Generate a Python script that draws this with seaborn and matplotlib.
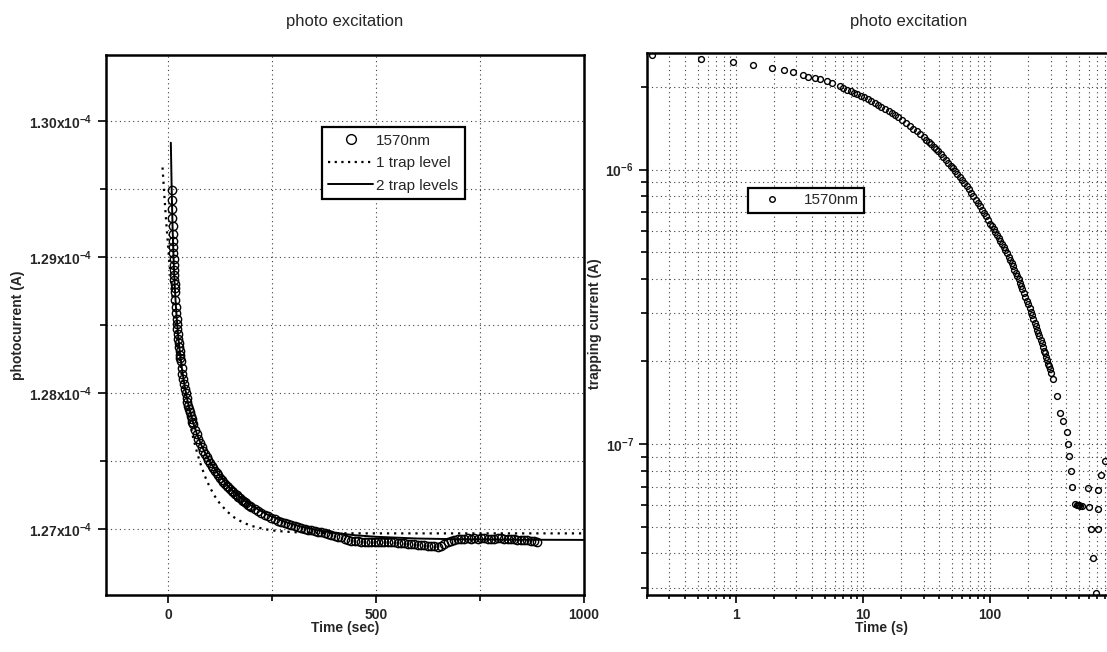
import numpy as np
import pandas as pd
import matplotlib
matplotlib.use("Agg")
import matplotlib.pyplot as plt
from matplotlib.ticker import MultipleLocator, FuncFormatter, LogLocator, NullFormatter, FixedLocator
from matplotlib.lines import Line2D
import seaborn as sns

# ---------------- left panel: photocurrent vs time ----------------
meas_time_s = [8, 8.5, 9, 9.5, 10, 10.5, 11, 11.5, 12, 12.5, 13, 13.5, 14, 14.5, 15, 15.5, 16,
               17, 18, 19, 20, 21, 22, 23, 24, 25, 26, 27, 28, 29, 30,
               32, 34, 36, 38, 40, 42, 44, 46, 48, 50, 52, 54, 56, 58, 60,
               64, 68, 72, 76, 80, 84, 88, 92, 96, 100, 104, 108, 112, 116, 120, 124, 128, 132,
               136, 140, 144, 148, 152, 156, 160, 164, 168, 172, 176, 180, 184, 188, 192, 196, 200,
               208, 216, 224, 232, 240, 248, 256, 264, 272, 280, 288, 296, 304, 312, 320, 328,
               336, 344, 352, 360, 368, 376, 384, 392, 400, 408, 416, 424, 432, 440, 448, 456,
               464, 472, 480, 488, 496, 504, 512, 520, 528, 536, 544, 552, 560, 568, 576, 584,
               592, 600, 608, 616, 624, 632, 640, 648, 656, 664, 672, 680, 688, 696, 704, 712,
               720, 728, 736, 744, 752, 760, 768, 776, 784, 792, 800, 808, 816, 824, 832, 840,
               848, 856, 864, 872, 880, 888]
meas_current_uA = [129.491, 129.418, 129.350, 129.287, 129.227, 129.172, 129.120, 129.072, 129.026,
                   128.983, 128.942, 128.904, 128.868, 128.833, 128.801, 128.770, 128.740,
                   128.685, 128.634, 128.588, 128.545, 128.505, 128.467, 128.432, 128.399, 128.368,
                   128.338, 128.309, 128.282, 128.257, 128.232,
                   128.185, 128.142, 128.102, 128.065, 128.030, 127.997, 127.965, 127.936, 127.908,
                   127.882, 127.857, 127.833, 127.811, 127.789, 127.769,
                   127.730, 127.695, 127.662, 127.632, 127.603, 127.577, 127.552, 127.529, 127.507,
                   127.485, 127.466, 127.447, 127.428, 127.411, 127.394, 127.378, 127.363, 127.348,
                   127.334, 127.320, 127.307, 127.294, 127.282, 127.270, 127.258, 127.247, 127.237,
                   127.226, 127.216, 127.206, 127.197, 127.188, 127.179, 127.171, 127.162,
                   127.147, 127.132, 127.118, 127.105, 127.093, 127.082, 127.071, 127.061, 127.052,
                   127.043, 127.035, 127.027, 127.020, 127.013, 127.007, 127.001,
                   126.995, 126.990, 126.985, 126.980, 126.975, 126.969, 126.963, 126.957, 126.950,
                   126.945, 126.938, 126.930, 126.922, 126.915, 126.912, 126.910,
                   126.908, 126.906, 126.908, 126.905, 126.906, 126.907, 126.905, 126.906, 126.904,
                   126.905, 126.902, 126.900, 126.898, 126.895, 126.893, 126.890,
                   126.888, 126.885, 126.882, 126.880, 126.878, 126.876, 126.872, 126.870, 126.875,
                   126.888, 126.905, 126.912, 126.918, 126.925, 126.928, 126.930,
                   126.931, 126.930, 126.932, 126.930, 126.931, 126.933, 126.930, 126.928, 126.930,
                   126.932, 126.931, 126.929, 126.928, 126.930, 126.926, 126.920,
                   126.922, 126.918, 126.916, 126.915, 126.912, 126.908]

fit1_time_s = [-14, -10, -6, -2, 2, 6, 10, 15, 20, 25, 30, 35, 40, 50, 60, 70, 80, 90, 100, 110,
               120, 140, 160, 180, 200, 230, 260, 300, 350, 400, 500, 600, 700, 800, 900, 1000]
fit1_current_uA = [129.658, 129.469, 129.294, 129.131, 128.979, 128.838, 128.707, 128.556, 128.418,
                   128.292, 128.177, 128.072, 127.976, 127.808, 127.668, 127.552, 127.455, 127.374,
                   127.306, 127.250, 127.203, 127.132, 127.082, 127.047, 127.023, 127.000, 126.986,
                   126.977, 126.972, 126.969, 126.968, 126.968, 126.968, 126.968, 126.968, 126.968]

fit2_time_s = [6, 8, 10, 12, 14, 16, 18, 20, 24, 28, 32, 36, 40, 45, 50, 55, 60, 70, 80, 90, 100,
               120, 140, 160, 180, 200, 240, 280, 320, 360, 400, 450, 500, 600, 700, 800, 900, 1000]
fit2_current_uA = [129.840, 129.500, 129.237, 129.036, 128.878, 128.750, 128.644, 128.555, 128.409,
                   128.292, 128.195, 128.112, 128.040, 127.960, 127.892, 127.832, 127.779, 127.688,
                   127.613, 127.550, 127.495, 127.404, 127.330, 127.268, 127.216, 127.172, 127.103,
                   127.053, 127.017, 126.990, 126.971, 126.954, 126.943, 126.930, 126.925, 126.922,
                   126.921, 126.920]

# ---------------- right panel: trapping current vs time ----------------
trap_time_s = [0.22, 0.53, 0.95, 1.37, 1.93, 2.39, 2.83, 3.35, 3.71, 4.19, 4.59, 5.18, 5.67, 6.59,
               7, 7.5, 8, 8.5, 9, 9.6, 10.2, 10.9, 11.6, 12.4, 13.2, 14, 15, 16, 17, 18, 19, 20.5,
               22, 23.5, 25, 26.5, 28, 30,
               31.5, 33, 34.5, 36, 37.5, 39, 41, 43, 45, 47, 49, 51, 53, 55.5, 58, 60.5, 63, 65.5,
               68, 71, 74, 77, 80, 83, 86, 89, 92.5, 96, 100,
               103.5, 107, 110.5, 114, 117.5, 121, 124.5, 128, 132, 136, 140, 144, 148, 152, 156,
               160, 164, 168, 172, 176, 180,
               185, 190, 195, 200, 205, 210, 215, 220, 225, 230, 235, 240, 245, 250, 255, 260, 265,
               270, 275, 280, 285, 290, 295, 300,
               316, 336, 356, 374, 401, 413, 420, 438, 446, 465, 480, 490, 500, 515, 530, 592, 603,
               629, 647, 682, 705, 712, 715, 752, 803]
trap_current_uA = [2.62, 2.53, 2.46, 2.41, 2.355, 2.31, 2.265, 2.21, 2.18, 2.155, 2.13, 2.095, 2.066, 2.01,
                   1.980, 1.955, 1.931, 1.908, 1.886, 1.860, 1.836, 1.808, 1.782, 1.753, 1.725, 1.698,
                   1.666, 1.636, 1.607, 1.579, 1.553, 1.514, 1.478, 1.444, 1.411, 1.380, 1.350, 1.313,
                   1.286, 1.260, 1.235, 1.211, 1.188, 1.166, 1.137, 1.110, 1.084, 1.059, 1.035, 1.012,
                   0.990, 0.963, 0.938, 0.914, 0.891, 0.868, 0.847, 0.822, 0.799, 0.777, 0.755, 0.735,
                   0.715, 0.696, 0.675, 0.655, 0.633,
                   0.622, 0.607, 0.593, 0.578, 0.564, 0.551, 0.537, 0.524, 0.510, 0.495, 0.482, 0.469,
                   0.456, 0.444, 0.432, 0.420, 0.409, 0.398, 0.387, 0.377, 0.367,
                   0.355, 0.344, 0.333, 0.323, 0.312, 0.303, 0.295, 0.285, 0.277, 0.269, 0.261, 0.254,
                   0.247, 0.239, 0.233, 0.226, 0.219, 0.214, 0.208, 0.203, 0.196, 0.192, 0.187, 0.182,
                   0.172, 0.150, 0.130, 0.121, 0.111, 0.100, 0.0905, 0.080, 0.070, 0.0603, 0.0598,
                   0.0600, 0.0598, 0.0596, 0.0597, 0.069, 0.059, 0.0489, 0.0386, 0.0286, 0.049, 0.058,
                   0.068, 0.077, 0.087]

titles = ["photo excitation", "photo excitation"]
legend_labels_left = ["1570nm", "1 trap level", "2 trap levels"]
legend_labels_right = ["1570nm"]
left_xticks = [0, 500, 1000]
left_yticks = [1.27e-4, 1.28e-4, 1.29e-4, 1.30e-4]
right_xticks = [1, 10, 100]

assert len(meas_time_s) == len(meas_current_uA)
assert len(fit1_time_s) == len(fit1_current_uA)
assert len(fit2_time_s) == len(fit2_current_uA)
assert len(trap_time_s) == len(trap_current_uA)

meas = pd.DataFrame({"t": meas_time_s, "I": np.array(meas_current_uA) * 1e-6})
fit1 = pd.DataFrame({"t": fit1_time_s, "I": np.array(fit1_current_uA) * 1e-6})
fit2 = pd.DataFrame({"t": fit2_time_s, "I": np.array(fit2_current_uA) * 1e-6})
trap = pd.DataFrame({"t": trap_time_s, "I": np.array(trap_current_uA) * 1e-6})

sns.set_theme(style="white")
plt.rcParams['font.family'] = ['Liberation Sans', 'DejaVu Sans']
plt.rcParams['mathtext.default'] = 'regular'

W, H = 1107, 652
fig = plt.figure(figsize=(W / 100, H / 100), dpi=100)
fig.patch.set_facecolor('white')


def px_axes(l, t, r, b):
    return [l / W, 1 - b / H, (r - l) / W, (b - t) / H]


ax1 = fig.add_axes(px_axes(106, 55, 584, 595))
ax2 = fig.add_axes(px_axes(647, 53, 1171, 595))

grid_kw = dict(linestyle=(0, (1, 3)), color='0.25', linewidth=0.8)

# ---------- left ----------
sns.lineplot(data=fit1, x="t", y="I", ax=ax1, estimator=None, sort=False, color='black',
             linestyle=(0, (1, 2.2)), linewidth=1.6, zorder=2)
sns.lineplot(data=meas, x="t", y="I", ax=ax1, estimator=None, sort=False, color='black',
             linestyle='none', marker='o', markersize=6, markerfacecolor='none',
             markeredgecolor='black', markeredgewidth=1.0, zorder=3)
sns.lineplot(data=fit2, x="t", y="I", ax=ax1, estimator=None, sort=False, color='black',
             linestyle='-', linewidth=1.4, zorder=4)

ax1.set_xlim(-150, 1000)
ax1.set_ylim(1.26515e-4, 1.30485e-4)
ax1.xaxis.set_major_locator(FixedLocator(left_xticks))
ax1.xaxis.set_minor_locator(MultipleLocator(250))
ax1.yaxis.set_major_locator(FixedLocator(left_yticks))
ax1.yaxis.set_minor_locator(MultipleLocator(0.5e-6))
ax1.xaxis.set_major_formatter(FuncFormatter(lambda v, p: f"{v:g}"))
ax1.yaxis.set_major_formatter(FuncFormatter(lambda v, p: f"{v * 1e4:.2f}x10$^{{-4}}$"))
ax1.grid(True, which='both', **grid_kw)
ax1.set_title(titles[0], fontsize=12, pad=21)
ax1.set_xlabel("Time (sec)", fontsize=10, fontweight='bold')
ax1.set_ylabel("photocurrent (A)", fontsize=10, fontweight='bold')
ax1.yaxis.set_label_coords(-0.169, 0.5)
ax1.xaxis.set_label_coords(0.5, -0.048)

h_left = [Line2D([], [], linestyle='none', marker='o', markersize=7, markerfacecolor='none',
                 markeredgecolor='black', markeredgewidth=1.0),
          Line2D([], [], color='black', linestyle=(0, (1, 2)), linewidth=1.6),
          Line2D([], [], color='black', linestyle='-', linewidth=1.4)]
leg1 = ax1.legend(h_left, legend_labels_left, loc='upper left', bbox_to_anchor=(0.451, 0.867),
                  borderaxespad=0, frameon=True, fancybox=False, framealpha=1,
                  edgecolor='black', fontsize=11, handlelength=2.9, handletextpad=0.2,
                  borderpad=0.45, labelspacing=0.55)
leg1.get_frame().set_linewidth(1.6)

# ---------- right ----------
ax2.set_xscale('log')
ax2.set_yscale('log')
sns.lineplot(data=trap, x="t", y="I", ax=ax2, estimator=None, sort=False, color='black',
             linestyle='none', marker='o', markersize=4.2, markerfacecolor='none',
             markeredgecolor='black', markeredgewidth=1.0)
ax2.set_xlim(0.2, 2660)
ax2.set_ylim(2.82e-8, 2.66e-6)
ax2.xaxis.set_major_locator(FixedLocator(right_xticks))
ax2.xaxis.set_minor_locator(LogLocator(base=10, subs=np.arange(2, 10), numticks=40))
ax2.yaxis.set_major_locator(LogLocator(base=10, numticks=20))
ax2.yaxis.set_minor_locator(LogLocator(base=10, subs=np.arange(2, 10), numticks=40))
ax2.xaxis.set_major_formatter(FuncFormatter(lambda v, p: f"{v:g}"))
ax2.xaxis.set_minor_formatter(NullFormatter())
ax2.yaxis.set_minor_formatter(NullFormatter())
ax2.grid(True, which='both', **grid_kw)
ax2.set_title(titles[1], fontsize=12, pad=19.5)
ax2.set_xlabel("Time (s)", fontsize=10, fontweight='bold')
ax2.set_ylabel("trapping current (A)", fontsize=10, fontweight='bold')
ax2.yaxis.set_label_coords(-0.086, 0.5)
ax2.xaxis.set_label_coords(0.447, -0.048)

h_right = [Line2D([], [], linestyle='none', marker='o', markersize=4, markerfacecolor='none',
                  markeredgecolor='black', markeredgewidth=1.0)]
leg2 = ax2.legend(h_right, legend_labels_right, loc='upper left', bbox_to_anchor=(0.193, 0.751),
                  borderaxespad=0, frameon=True, fancybox=False, framealpha=1,
                  edgecolor='black', fontsize=11, handlelength=2.4, handletextpad=0.9,
                  borderpad=0.35)
leg2.get_frame().set_linewidth(1.6)

for ax in (ax1, ax2):
    for s in ax.spines.values():
        s.set_color('black')
        s.set_linewidth(1.8)
        s.set_visible(True)
    ax.tick_params(axis='both', which='both', direction='out', color='black', width=1.2,
                   labelsize=10, bottom=True, left=True, top=False, right=False)
    ax.tick_params(which='major', length=6)
    ax.tick_params(which='minor', length=4)
    for lbl in ax.get_xticklabels() + ax.get_yticklabels():
        lbl.set_fontweight('bold')
    ax.set_facecolor('white')
ax2.tick_params(axis='x', which='minor', length=3)

fig.savefig("out.png", dpi=100, facecolor='white')
